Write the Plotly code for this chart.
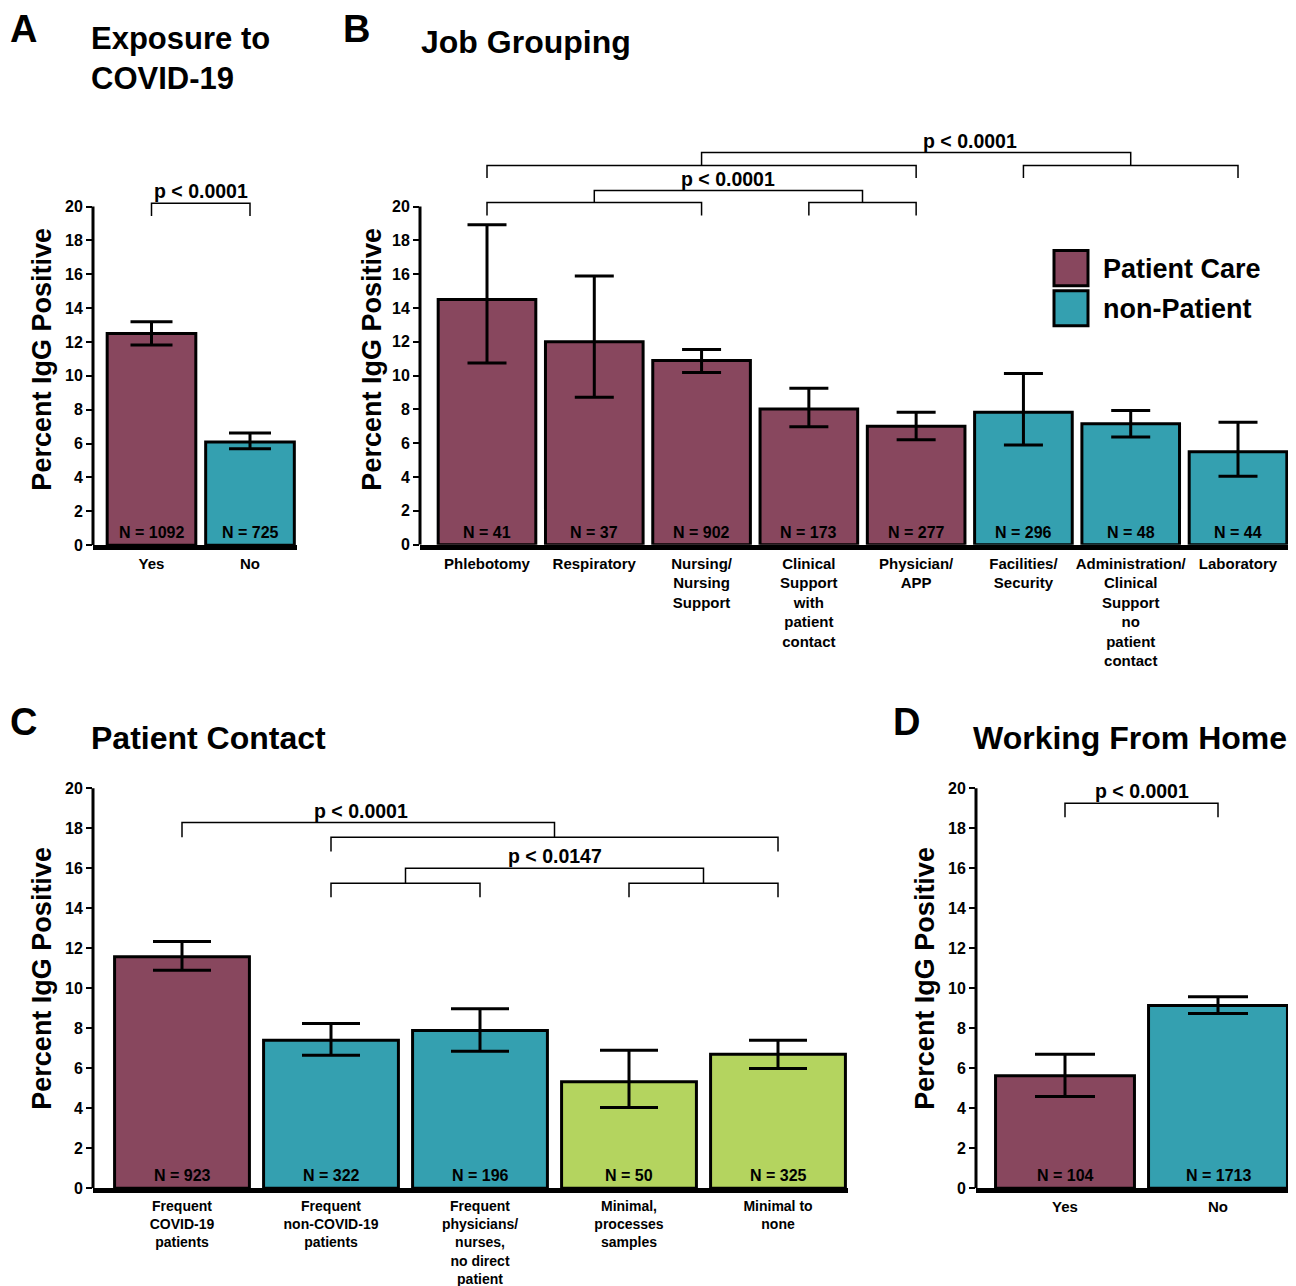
import plotly.graph_objects as go

W, H = 1296, 1286
OFF_X = 8          # page body margin offset (px)
OFF_Y = 12.4       # measured vertical offset of the rendered snapshot
SY = 0.9898        # measured vertical scale of the rendered snapshot
MAROON = "#88475E"
TEAL = "#34A0B0"
GREEN = "#B4D45F"
GROUP_COLORS = {"pc": MAROON, "np": TEAL, "min": GREEN}

# ---------------- data ----------------
# Panel A: Exposure to COVID-19
a_cats = ["Yes", "No"]
a_vals = [12.5, 6.1]
a_hi = [13.2, 6.63]
a_lo = [11.82, 5.69]
a_n = [1092, 725]
a_grp = ["pc", "np"]

# Panel B: Job Grouping
b_cats = ["Phlebotomy", "Respiratory", "Nursing/<br>Nursing<br>Support",
          "Clinical<br>Support<br>with<br>patient<br>contact", "Physician/<br>APP",
          "Facilities/<br>Security",
          "Administration/<br>Clinical<br>Support<br>no<br>patient<br>contact",
          "Laboratory"]
b_vals = [14.5, 12.0, 10.9, 8.03, 7.0, 7.83, 7.16, 5.5]
b_hi = [18.93, 15.9, 11.54, 9.25, 7.83, 10.12, 7.93, 7.24]
b_lo = [10.75, 8.72, 10.18, 6.98, 6.21, 5.9, 6.37, 4.05]
b_n = [41, 37, 902, 173, 277, 296, 48, 44]
b_grp = ["pc", "pc", "pc", "pc", "pc", "np", "np", "np"]

# Panel C: Patient Contact
c_cats = ["Frequent<br>COVID-19<br>patients", "Frequent<br>non-COVID-19<br>patients",
          "Frequent<br>physicians/<br>nurses,<br>no direct<br>patient",
          "Minimal,<br>processes<br>samples", "Minimal to<br>none"]
c_vals = [11.57, 7.4, 7.88, 5.32, 6.7]
c_hi = [12.33, 8.23, 8.97, 6.9, 7.4]
c_lo = [10.9, 6.65, 6.85, 4.03, 5.98]
c_n = [923, 322, 196, 50, 325]
c_grp = ["pc", "np", "np", "min", "min"]

# Panel D: Working From Home
d_cats = ["Yes", "No"]
d_vals = [5.62, 9.13]
d_hi = [6.7, 9.57]
d_lo = [4.58, 8.73]
d_n = [104, 1713]
d_grp = ["pc", "np"]

y_ticks = list(range(0, 21, 2))
p_main = "p < 0.0001"
p_second = "p < 0.0147"
legend_labels = ["Patient Care", "non-Patient"]

# ---------------- figure ----------------
fig = go.Figure()
layout = dict(width=W, height=H, margin=dict(l=0, r=0, t=0, b=0),
              plot_bgcolor="white", paper_bgcolor="white", showlegend=False,
              font=dict(family="Liberation Sans, Arial, sans-serif", color="black"))
shapes = []
annotations = []

BOLD = "bold"


def px_x(p):
    return (p - OFF_X) / W


def px_y(p):
    return 1 - ((p - OFF_Y) / SY) / H


def panel(k, cats, vals, hi, lo, ns, grp, xl, xr, c0, c1, py0, py20, ymax,
          barw, capw, xfont):
    n = len(cats)
    step = (c1 - c0) / (n - 1)
    xr0 = -(c0 - xl) / step
    xr1 = (n - 1) + (xr - c1) / step
    unit = (py0 - py20) / 20.0
    ptop = py0 - ymax * unit
    xa = "x" if k == 1 else f"x{k}"
    ya = "y" if k == 1 else f"y{k}"
    xs = list(range(n))
    fig.add_trace(go.Bar(
        x=xs, y=vals, width=barw, xaxis=xa, yaxis=ya,
        marker=dict(color=[GROUP_COLORS[g] for g in grp],
                    line=dict(color="black", width=3)),
        error_y=dict(type="data", symmetric=False,
                     array=[h - v for h, v in zip(hi, vals)],
                     arrayminus=[v - l for v, l in zip(vals, lo)],
                     color="black", thickness=3, width=capw),
        hoverinfo="skip"))
    kx = "xaxis" if k == 1 else f"xaxis{k}"
    ky = "yaxis" if k == 1 else f"yaxis{k}"
    layout[kx] = dict(domain=[px_x(xl), px_x(xr)], range=[xr0, xr1], anchor=ya,
                      tickvals=xs, ticktext=cats, showline=True, linecolor="black",
                      linewidth=5, ticks="outside", ticklen=1,
                      tickcolor="rgba(0,0,0,0)", showgrid=False, zeroline=False,
                      tickfont=dict(size=xfont, weight=BOLD, color="black"))
    layout[ky] = dict(domain=[px_y(py0), px_y(ptop)], range=[0, ymax], anchor=xa,
                      tickvals=y_ticks, ticks="outside", ticklen=6, tickwidth=2,
                      tickcolor="black", showline=False, showgrid=False,
                      zeroline=False, tickfont=dict(size=16, weight=BOLD, color="black"))
    # left spine from 0 to 20
    shapes.append(dict(type="line", xref=f"{xa} domain", yref=ya, x0=0, x1=0,
                       y0=0, y1=20, line=dict(color="black", width=3)))
    for i, nn in enumerate(ns):
        annotations.append(dict(xref=xa, yref=ya, x=i, y=0, yanchor="bottom",
                                yshift=2, text=f"N = {nn}", showarrow=False,
                                font=dict(size=16, weight=BOLD, color="black")))
    return xa, ya


def bracket(xa, ya, x0, x1, top, tick):
    shapes.append(dict(type="path", xref=xa, yref=ya,
                       path=f"M {x0},{tick} L {x0},{top} L {x1},{top} L {x1},{tick}",
                       line=dict(color="black", width=1.5)))


def ptext(xa, ya, x, y, text):
    annotations.append(dict(xref=xa, yref=ya, x=x, y=y, yanchor="bottom", yshift=-1,
                            text=text, showarrow=False,
                            font=dict(size=19.5, weight=BOLD, color="black")))


# Panel A
xa, ya = panel(1, a_cats, a_vals, a_hi, a_lo, a_n, a_grp,
               93, 297, 151.5, 250, 545.5, 207, 21.5, 0.9, 21, 15)
bracket(xa, ya, 0, 1, 20.2, 19.45)
ptext(xa, ya, 0.5, 20.2, p_main)

# Panel B
xa, ya = panel(2, b_cats, b_vals, b_hi, b_lo, b_n, b_grp,
               420, 1290, 487, 1238, 545, 207, 24.5, 0.91, 19.5, 15)
bracket(xa, ya, 0, 2, 20.24, 19.47)
bracket(xa, ya, 3, 4, 20.24, 19.47)
bracket(xa, ya, 1, 3.5, 20.95, 20.24)
ptext(xa, ya, 2.25, 20.95, p_main)
bracket(xa, ya, 0, 4, 22.43, 21.7)
bracket(xa, ya, 5, 7, 22.43, 21.7)
bracket(xa, ya, 2, 6, 23.2, 22.43)
ptext(xa, ya, 4.5, 23.2, p_main)

# Panel C
xa, ya = panel(3, c_cats, c_vals, c_hi, c_lo, c_n, c_grp,
               93, 848, 182, 778, 1188.5, 788.5, 20.2, 0.905, 29, 14)
bracket(xa, ya, 0, 2.5, 18.28, 17.54)
bracket(xa, ya, 1, 4, 17.54, 16.83)
ptext(xa, ya, 1.2, 18.28, p_main)
bracket(xa, ya, 1, 2, 15.25, 14.55)
bracket(xa, ya, 3, 4, 15.25, 14.55)
bracket(xa, ya, 1.5, 3.5, 16.0, 15.25)
ptext(xa, ya, 2.5, 16.0, p_second)

# Panel D
xa, ya = panel(4, d_cats, d_vals, d_hi, d_lo, d_n, d_grp,
               976, 1289, 1065, 1218, 1188.5, 788.5, 20.2, 0.908, 30, 15)
bracket(xa, ya, 0, 1, 19.25, 18.55)
ptext(xa, ya, 0.5, 19.25, p_main)


# Text: panel letters, titles, y titles
def ptxt(x, y, text, size, xanchor="left", angle=0):
    annotations.append(dict(xref="paper", yref="paper", x=px_x(x), y=px_y(y),
                            xanchor=xanchor, yanchor="middle", text=text,
                            showarrow=False, textangle=angle, align="left",
                            font=dict(size=size, weight=BOLD, color="black")))


ptxt(8, 29, "A", 38)
ptxt(341, 29, "B", 38)
ptxt(8, 722, "C", 38)
ptxt(891, 722, "D", 38)
ptxt(89, 59, "Exposure to<br>COVID-19", 31)
ptxt(419, 42, "Job Grouping", 32)
ptxt(89, 738, "Patient Contact", 32)
ptxt(971, 738, "Working From Home", 32)
for (x, y) in [(42, 360), (372, 360), (42, 979), (925, 979)]:
    ptxt(x, y, "Percent IgG Positive", 27, xanchor="center", angle=-90)

# legend for panel B
for j, (lab, col) in enumerate(zip(legend_labels, [MAROON, TEAL])):
    y0 = 251 + j * 40
    shapes.append(dict(type="rect", xref="paper", yref="paper",
                       x0=px_x(1054), x1=px_x(1088), y0=px_y(y0), y1=px_y(y0 + 35),
                       fillcolor=col, line=dict(color="black", width=3)))
    ptxt(1101, y0 + 18, lab, 27)

layout["shapes"] = shapes
layout["annotations"] = annotations
fig.update_layout(**layout)
fig.write_html("out.html")
